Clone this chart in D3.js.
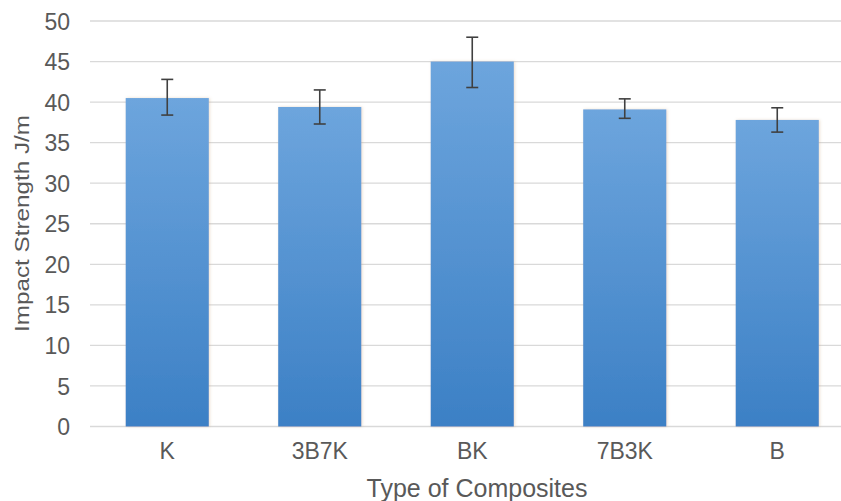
<!DOCTYPE html>
<html><head><meta charset="utf-8">
<script src="https://cdn.jsdelivr.net/npm/d3@7"></script>
<style>body{margin:0;background:#fff}svg{display:block}</style>
</head><body>
<svg id="c" width="841" height="501"></svg>
<script>
const categories = ["K", "3B7K", "BK", "7B3K", "B"];
const values = [40.5, 39.4, 45.0, 39.1, 37.8];
const errLow = [38.4, 37.3, 41.8, 38.0, 36.3];
const errHigh = [42.8, 41.5, 48.0, 40.4, 39.3];
const yTicks = [0, 5, 10, 15, 20, 25, 30, 35, 40, 45, 50];

const svg = d3.select("#c");
const x = d3.scaleBand().domain(categories).range([91, 853.5]).paddingInner(0.455).paddingOuter(0.2275);
const y = d3.scaleLinear().domain([0, 50]).range([426.5, 21]);
const txt = "#595959";
const font = "Liberation Sans, Arial, sans-serif";

const defs = svg.append("defs");
const g = defs.append("linearGradient").attr("id","bg").attr("x1",0).attr("y1",0).attr("x2",0).attr("y2",1);
g.append("stop").attr("offset","0%").attr("stop-color","#6da5dd");
g.append("stop").attr("offset","100%").attr("stop-color","#3c80c5");
const f = defs.append("filter").attr("id","sh").attr("x","-10%").attr("y","-10%").attr("width","130%").attr("height","120%");
f.append("feDropShadow").attr("dx",1).attr("dy",0).attr("stdDeviation",1.5).attr("flood-color","#c8a070").attr("flood-opacity",0.35);

// grid
svg.append("g").selectAll("line").data(yTicks).join("line")
  .attr("x1", 90).attr("x2", 841)
  .attr("y1", d => y(d)).attr("y2", d => y(d))
  .attr("stroke", "#d9d9d9").attr("stroke-width", 1.3);

// y axis labels
const yAxis = d3.axisLeft(y).tickValues(yTicks).tickSize(0).tickPadding(0);
const ya = svg.append("g").attr("transform","translate(70,0)").call(yAxis);
ya.select(".domain").remove();
ya.selectAll("text").attr("fill", txt).attr("font-size", 23).attr("font-family", font).attr("dy","0.35em");

// bars
svg.append("g").selectAll("rect").data(categories).join("rect")
  .attr("x", d => x(d)).attr("width", x.bandwidth())
  .attr("y", (d,i) => y(values[i])).attr("height", (d,i) => y(0) - y(values[i]))
  .attr("fill", "url(#bg)").attr("filter","url(#sh)");

// error bars
const eb = svg.append("g").attr("stroke", "#404040").attr("stroke-width", 1.6);
categories.forEach((c,i) => {
  const cx = x(c) + x.bandwidth()/2;
  eb.append("line").attr("x1",cx).attr("x2",cx).attr("y1",y(errLow[i])).attr("y2",y(errHigh[i]));
  eb.append("line").attr("x1",cx-6).attr("x2",cx+6).attr("y1",y(errLow[i])).attr("y2",y(errLow[i]));
  eb.append("line").attr("x1",cx-6).attr("x2",cx+6).attr("y1",y(errHigh[i])).attr("y2",y(errHigh[i]));
});

// x axis labels
const xAxis = d3.axisBottom(x).tickSize(0).tickPadding(0);
const xa = svg.append("g").attr("transform","translate(0,459)").call(xAxis);
xa.select(".domain").remove();
xa.selectAll("text").attr("fill", txt).attr("font-size", 23).attr("font-family", font).attr("dy", 0);

svg.append("text").attr("x", 477).attr("y", 497).attr("text-anchor","middle")
  .attr("fill", txt).attr("font-size", 25).attr("font-family", font).text("Type of Composites");
svg.append("text").attr("transform","translate(29,223.5) rotate(-90)").attr("text-anchor","middle")
  .attr("fill", txt).attr("font-size", 20).attr("font-family", font)
  .attr("textLength", 217).attr("lengthAdjust","spacingAndGlyphs").text("Impact Strength J/m");
</script>
</body></html>
